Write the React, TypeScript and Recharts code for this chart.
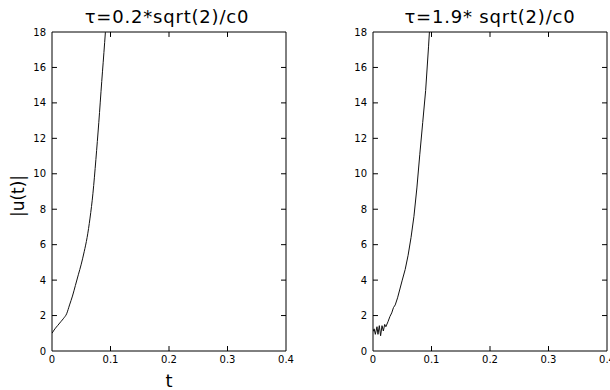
import {
    LineChart,
    Line,
    XAxis,
    YAxis,
    ReferenceLine
} from "recharts";

// left panel: tau = 0.2*sqrt(2)/c0
const leftT = [0, 0.005, 0.01, 0.015, 0.02, 0.025, 0.03, 0.035, 0.04, 0.045, 0.05,
    0.055, 0.06, 0.065, 0.07, 0.075, 0.08, 0.085, 0.09, 0.095, 0.1];
const leftU = [1.0, 1.25, 1.45, 1.65, 1.85, 2.1, 2.6, 3.1, 3.7, 4.3, 4.9,
    5.6, 6.4, 7.5, 8.9, 10.8, 12.9, 15.2, 17.4, 19.8, 22.5];

// right panel: tau = 1.9*sqrt(2)/c0 (noisy start)
const rightT = [0, 0.002, 0.004, 0.0068, 0.0085, 0.0108, 0.013, 0.0154, 0.0177, 0.02,
    0.022, 0.0256, 0.029, 0.032, 0.035, 0.038, 0.042, 0.046, 0.05, 0.055,
    0.06, 0.065, 0.07, 0.075, 0.08, 0.085, 0.09, 0.095, 0.1];
const rightU = [1.1, 1.25, 0.94, 1.37, 0.94, 1.43, 0.86, 1.43, 1.13, 1.5,
    1.37, 1.65, 1.95, 2.15, 2.45, 2.6, 3.0, 3.5, 4.0, 4.6,
    5.4, 6.4, 7.6, 9.2, 11.1, 12.9, 14.7, 17.2, 20];

const xTicks = [0, 0.1, 0.2, 0.3, 0.4];
const xInnerTicks = [0.1, 0.2, 0.3];
const yTicks = [0, 2, 4, 6, 8, 10, 12, 14, 16, 18];
const yInnerTicks = [2, 4, 6, 8, 10, 12, 14, 16];

const titles = ["\u03c4=0.2*sqrt(2)/c0", "\u03c4=1.9* sqrt(2)/c0"];
const xLabel = "t";
const yLabel = "|u(t)|";

const X_MAX = 0.4;
const Y_MAX = 18;
// inward tick length in data units (~5px each way)
const TICK_DX = 0.0085;
const TICK_DY = 0.28;

const font = "DejaVu Sans";
const axisStroke = { stroke: "#000" };
const tickStyle = { fontSize: 10, fill: "#000", fontFamily: font };

type PanelProps = {
    ts: number[];
    us: number[];
    left: number;
    marginLeft: number;
    marginRight: number;
    showXLabel: boolean;
    curve: "linear" | "monotone";
};

function Panel({ ts, us, left, marginLeft, marginRight, showXLabel, curve }: PanelProps) {

    const data = ts.map((t, i) => ({ t, u: us[i] }));

    return (
        <div style={{ position: "absolute", left, top: 0 }}>
            <LineChart
                width={305}
                height={390}
                data={data}
                margin={{ top: 31, right: marginRight, bottom: 3, left: marginLeft }}
            >
                <XAxis
                    dataKey="t"
                    type="number"
                    domain={[0, X_MAX]}
                    ticks={xTicks}
                    interval={0}
                    allowDataOverflow
                    height={36}
                    tickSize={0}
                    tickMargin={5}
                    tick={tickStyle}
                    tickLine={false}
                    axisLine={axisStroke}
                    label={showXLabel ? {
                        value: xLabel,
                        position: "insideBottom",
                        offset: 0,
                        style: { fontSize: 18, fill: "#000", fontFamily: font }
                    } : undefined}
                />
                <XAxis
                    xAxisId="top"
                    orientation="top"
                    type="number"
                    domain={[0, X_MAX]}
                    ticks={xInnerTicks}
                    height={1}
                    tick={false}
                    tickLine={false}
                    axisLine={axisStroke}
                />
                <YAxis
                    type="number"
                    domain={[0, Y_MAX]}
                    ticks={yTicks}
                    interval={0}
                    allowDataOverflow
                    width={40}
                    tickSize={0}
                    tickMargin={6}
                    tick={tickStyle}
                    tickLine={false}
                    axisLine={axisStroke}
                />
                <YAxis
                    yAxisId="right"
                    orientation="right"
                    type="number"
                    domain={[0, Y_MAX]}
                    ticks={yInnerTicks}
                    width={1}
                    tick={false}
                    tickLine={false}
                    axisLine={axisStroke}
                />

                {/* inward tick marks on all four sides */}
                {xInnerTicks.map((x) => (
                    <ReferenceLine
                        key={`b${x}`}
                        segment={[{ x, y: 0 }, { x, y: TICK_DY }]}
                        stroke="#000"
                    />
                ))}
                {xInnerTicks.map((x) => (
                    <ReferenceLine
                        key={`t${x}`}
                        segment={[{ x, y: Y_MAX - TICK_DY }, { x, y: Y_MAX }]}
                        stroke="#000"
                    />
                ))}
                {yInnerTicks.map((y) => (
                    <ReferenceLine
                        key={`l${y}`}
                        segment={[{ x: 0, y }, { x: TICK_DX, y }]}
                        stroke="#000"
                    />
                ))}
                {yInnerTicks.map((y) => (
                    <ReferenceLine
                        key={`r${y}`}
                        segment={[{ x: X_MAX - TICK_DX, y }, { x: X_MAX, y }]}
                        stroke="#000"
                    />
                ))}

                <Line
                    type={curve}
                    dataKey="u"
                    stroke="#111"
                    strokeWidth={1}
                    dot={false}
                    isAnimationActive={false}
                />
            </LineChart>
        </div>
    );
}

export default function App() {
    return (
        <div
            style={{
                position: "absolute",
                left: 0,
                top: 0,
                width: 610,
                height: 390,
                background: "#fff",
                overflow: "hidden"
            }}
        >
            <Panel ts={leftT} us={leftU} left={0} marginLeft={12} marginRight={18} showXLabel curve="monotone" />
            <Panel ts={rightT} us={rightU} left={305} marginLeft={28} marginRight={2} showXLabel={false} curve="linear" />

            <svg
                width={610}
                height={390}
                style={{ position: "absolute", left: 0, top: 0, pointerEvents: "none" }}
            >
                <text x={167} y={23} textAnchor="middle" fontSize={18} letterSpacing={0.8} fontFamily={font} fill="#000">
                    {titles[0]}
                </text>
                <text x={490} y={23} textAnchor="middle" fontSize={18} letterSpacing={0.8} fontFamily={font} fill="#000">
                    {titles[1]}
                </text>
                <text
                    x={24}
                    y={196}
                    textAnchor="middle"
                    fontSize={17}
                    fontFamily={font}
                    fill="#000"
                    transform="rotate(-90 24 196)"
                >
                    {yLabel}
                </text>
            </svg>
        </div>
    );
}
